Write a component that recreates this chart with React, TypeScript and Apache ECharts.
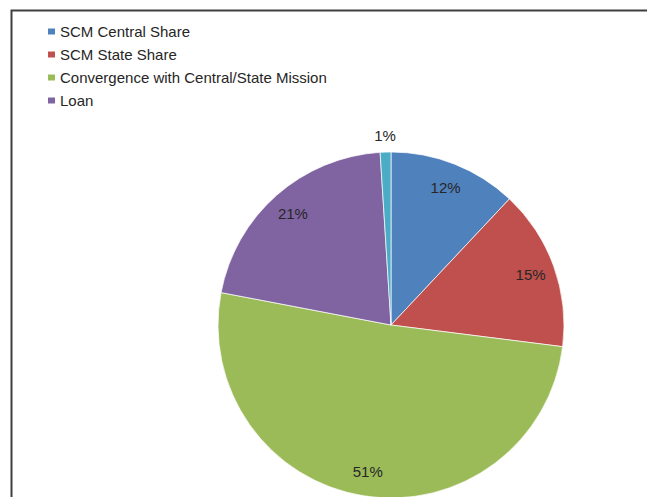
import React, { useEffect, useRef } from "react";
import * as echarts from "echarts";

const categories = [
  "SCM Central Share",
  "SCM State Share",
  "Convergence with Central/State Mission",
  "Loan",
  "Others",
];
const shares = [12, 15, 51, 21, 1];
const colors = ["#4F81BD", "#C0504D", "#9BBB59", "#8064A2", "#4BACC6"];
const legendItems = categories.slice(0, 4);

const FONT = "'Liberation Sans', Arial, sans-serif";

export default function App() {
  const ref = useRef<HTMLDivElement>(null);
  useEffect(() => {
    document.body.style.margin = "0";
    const chart = echarts.init(ref.current!, null, { renderer: "svg" });
    const center = [391, 325];
    const R = 173;
    const base = categories.map((name, i) => ({ name, value: shares[i] }));
    chart.setOption({
      animation: false,
      backgroundColor: "#ffffff",
      color: colors,
      legend: {
        data: legendItems,
        orient: "vertical",
        left: 46,
        top: 24,
        padding: 0,
        itemWidth: 9,
        itemHeight: 8,
        itemGap: 8,
        icon: "rect",
        textStyle: { fontFamily: FONT, fontSize: 15, lineHeight: 15, color: "#262626", padding: [0, 0, 0, -1] },
      },
      graphic: [
        {
          type: "polyline",
          shape: { points: [[11.5, 497], [11.5, 10.5], [647, 10.5]] },
          style: { stroke: "#3f3f3f", lineWidth: 2, fill: "none" },
          silent: true,
          z: 100,
        },
      ],
      series: [
        {
          type: "pie",
          center,
          radius: [0, R],
          startAngle: 90,
          clockwise: true,
          silent: true,
          label: { show: false },
          labelLine: { show: false },
          itemStyle: { borderColor: "#ffffff", borderWidth: 0.7 },
          data: base.map((d, i) => ({ ...d, itemStyle: { color: colors[i] } })),
        },
        {
          type: "pie",
          center,
          radius: [R * 0.68, R],
          startAngle: 90,
          clockwise: true,
          silent: true,
          legendHoverLink: false,
          itemStyle: { color: "rgba(0,0,0,0)" },
          labelLine: { show: false },
          label: {
            show: true,
            position: "inside",
            formatter: "{c}%",
            fontFamily: FONT,
            fontSize: 15,
            color: "#262626",
          },
          data: base.map((d, i) => ({
            ...d,
            name: d.name + " ",
            label: { show: i < 4 },
          })),
        },
        {
          type: "pie",
          center,
          radius: [R, R * 1.16],
          startAngle: 90,
          clockwise: true,
          silent: true,
          legendHoverLink: false,
          itemStyle: { color: "rgba(0,0,0,0)" },
          labelLine: { show: false },
          label: {
            show: true,
            position: "inside",
            formatter: "{c}%",
            fontFamily: FONT,
            fontSize: 15,
            color: "#262626",
          },
          data: base.map((d, i) => ({
            ...d,
            name: d.name + "  ",
            label: { show: i === 4 },
          })),
        },
      ],
    });
    return () => chart.dispose();
  }, []);
  return (
    <div
      ref={ref}
      style={{ position: "fixed", left: 0, top: 0, width: 647, height: 497 }}
    />
  );
}
